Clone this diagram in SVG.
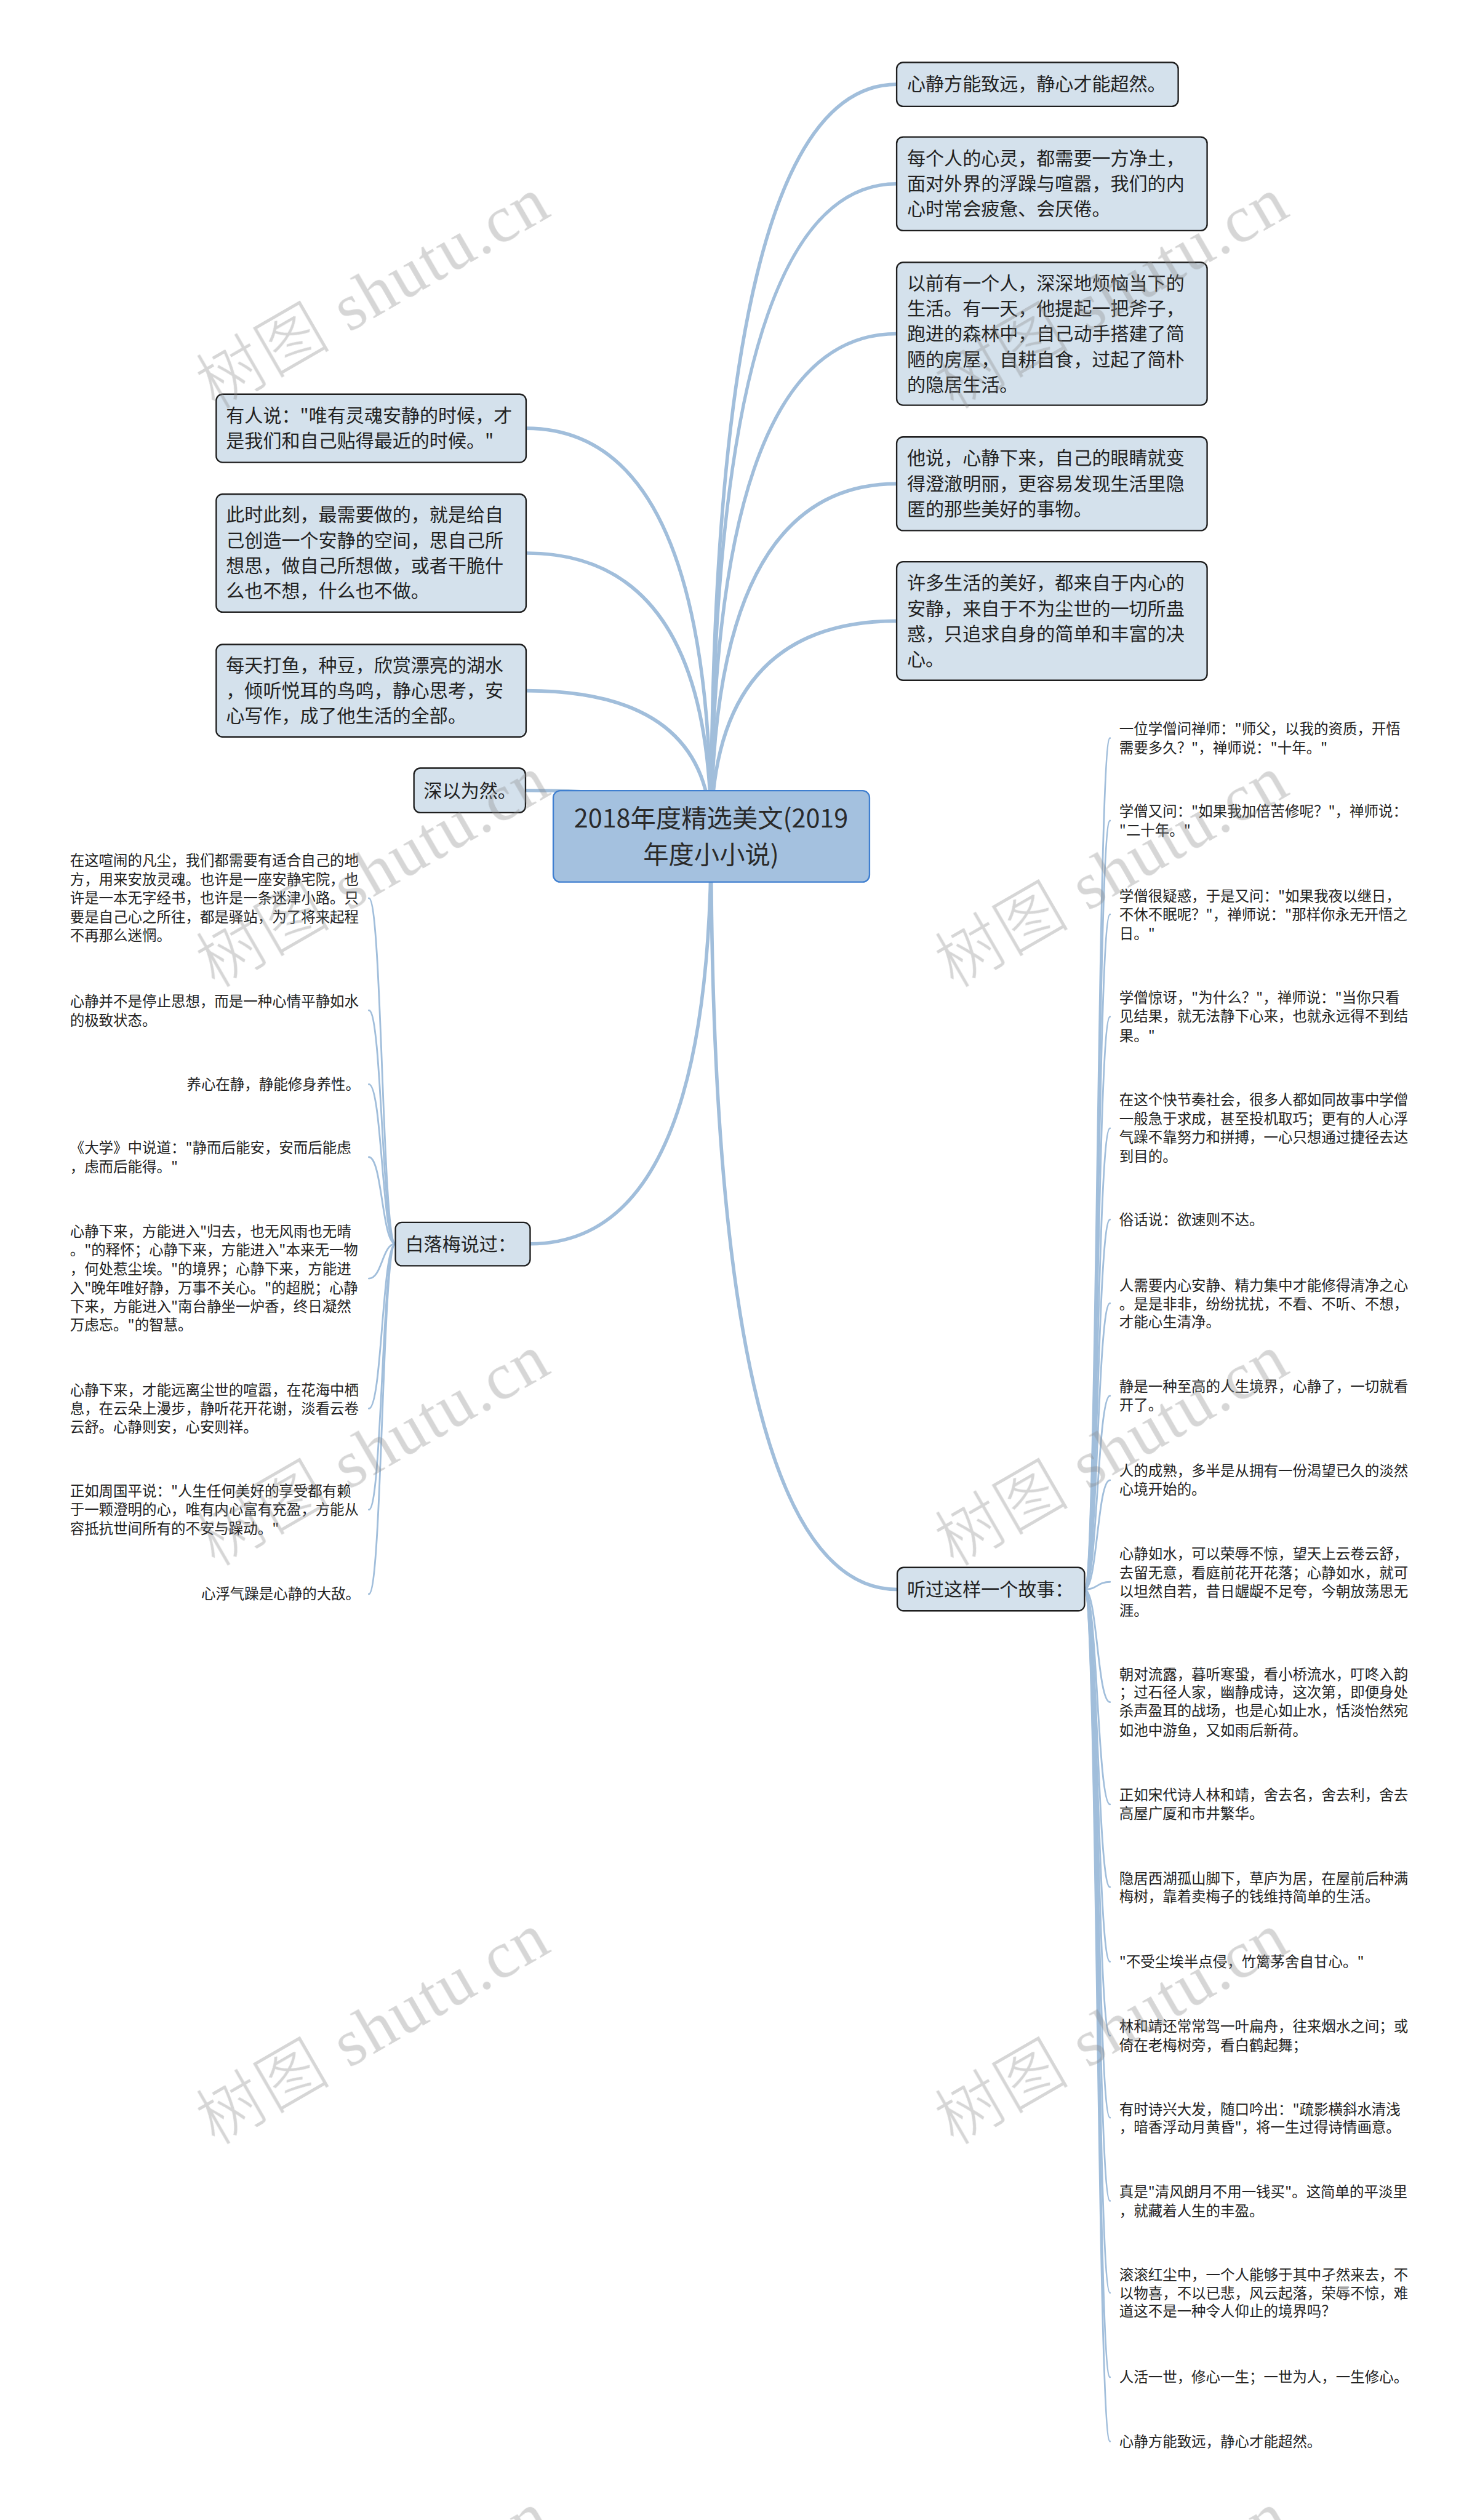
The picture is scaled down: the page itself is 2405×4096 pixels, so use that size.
<svg xmlns="http://www.w3.org/2000/svg" width="2405" height="4096" viewBox="0 0 2405 4096">
<style>
.box{fill:#d4e1ec;stroke:#1e1e1e;stroke-width:2.5}
.root{fill:#a4c1df;stroke:#3f7fd0;stroke-width:2.5}
.t{font-family:"Noto Sans CJK SC","Noto Sans",sans-serif;fill:#222}
.s32{font-size:32px}
.s25{font-size:25px}
.s43{font-size:44px;fill:#2a2a2a}
.c1{fill:none;stroke:#a1bedb;stroke-width:6;stroke-linecap:round}
.c2{fill:none;stroke:#a1bedb;stroke-width:3;stroke-linecap:round}
.wm{font-size:115px;fill:#8a8a8a;opacity:0.35;letter-spacing:3px}
</style>
<rect x="0" y="0" width="2405" height="4096" fill="#ffffff"/>
<g transform="scale(0.93945)">
<g id="connectors">
<path class="c1" d="M1230,1447 Q1230,146 1551,146"/>
<path class="c1" d="M1230,1447 Q1230,318 1551,318"/>
<path class="c1" d="M1230,1447 Q1230,577.5 1551,577.5"/>
<path class="c1" d="M1230,1447 Q1230,837 1551,837"/>
<path class="c1" d="M1230,1447 Q1230,1074.5 1551,1074.5"/>
<path class="c1" d="M1230,1447 Q1230,741 910,741"/>
<path class="c1" d="M1230,1447 Q1230,957 910,957"/>
<path class="c1" d="M1230,1447 Q1230,1195 910,1195"/>
<path class="c1" d="M1230,1447 Q1230,1367.5 909,1367.5"/>
<path class="c1" d="M1230,1447 Q1230,2152 917,2152"/>
<path class="c1" d="M1230,1447 Q1230,2750 1552,2750"/>
<path class="c2" d="M684,2152 C661,2152 661,1554 638,1554"/>
<path class="c2" d="M684,2152 C661,2152 661,1748 638,1748"/>
<path class="c2" d="M684,2152 C661,2152 661,1876 638,1876"/>
<path class="c2" d="M684,2152 C661,2152 661,2002 638,2002"/>
<path class="c2" d="M684,2152 C661,2152 661,2212 638,2212"/>
<path class="c2" d="M684,2152 C661,2152 661,2437 638,2437"/>
<path class="c2" d="M684,2152 C661,2152 661,2612 638,2612"/>
<path class="c2" d="M684,2152 C661,2152 661,2758 638,2758"/>
<path class="c2" d="M1876,2750 C1898,2750 1898,1277 1920,1277"/>
<path class="c2" d="M1876,2750 C1898,2750 1898,1420 1920,1420"/>
<path class="c2" d="M1876,2750 C1898,2750 1898,1582 1920,1582"/>
<path class="c2" d="M1876,2750 C1898,2750 1898,1759 1920,1759"/>
<path class="c2" d="M1876,2750 C1898,2750 1898,1952 1920,1952"/>
<path class="c2" d="M1876,2750 C1898,2750 1898,2110 1920,2110"/>
<path class="c2" d="M1876,2750 C1898,2750 1898,2255 1920,2255"/>
<path class="c2" d="M1876,2750 C1898,2750 1898,2415 1920,2415"/>
<path class="c2" d="M1876,2750 C1898,2750 1898,2561 1920,2561"/>
<path class="c2" d="M1876,2750 C1898,2750 1898,2737 1920,2737"/>
<path class="c2" d="M1876,2750 C1898,2750 1898,2945 1920,2945"/>
<path class="c2" d="M1876,2750 C1898,2750 1898,3122 1920,3122"/>
<path class="c2" d="M1876,2750 C1898,2750 1898,3265 1920,3265"/>
<path class="c2" d="M1876,2750 C1898,2750 1898,3394 1920,3394"/>
<path class="c2" d="M1876,2750 C1898,2750 1898,3522 1920,3522"/>
<path class="c2" d="M1876,2750 C1898,2750 1898,3664 1920,3664"/>
<path class="c2" d="M1876,2750 C1898,2750 1898,3808 1920,3808"/>
<path class="c2" d="M1876,2750 C1898,2750 1898,3967 1920,3967"/>
<path class="c2" d="M1876,2750 C1898,2750 1898,4113 1920,4113"/>
<path class="c2" d="M1876,2750 C1898,2750 1898,4224 1920,4224"/>
</g>
<g id="root">
<rect class="root" x="957" y="1368" width="547" height="158" rx="12"/>
<text class="t s43" text-anchor="middle"><tspan x="1230" y="1432">2018年度精选美文(2019</tspan><tspan x="1230" y="1494">年度小小说)</tspan></text>
</g>
<g id="b1">
<rect class="box" x="1551" y="108" width="487" height="76" rx="11"/>
<text class="t s32" x="1569" y="157">心静方能致远，静心才能超然。</text>
</g>
<g id="b2">
<rect class="box" x="1551" y="237" width="537" height="162" rx="11"/>
<text class="t s32"><tspan x="1569" y="285">每个人的心灵，都需要一方净土，</tspan><tspan x="1569" y="329">面对外界的浮躁与喧嚣，我们的内</tspan><tspan x="1569" y="373">心时常会疲惫、会厌倦。</tspan></text>
</g>
<g id="b3">
<rect class="box" x="1551" y="454" width="537" height="247" rx="11"/>
<text class="t s32"><tspan x="1569" y="501">以前有一个人，深深地烦恼当下的</tspan><tspan x="1569" y="545">生活。有一天，他提起一把斧子，</tspan><tspan x="1569" y="589">跑进的森林中，自己动手搭建了简</tspan><tspan x="1569" y="633">陋的房屋，自耕自食，过起了简朴</tspan><tspan x="1569" y="677">的隐居生活。</tspan></text>
</g>
<g id="b4">
<rect class="box" x="1551" y="756" width="537" height="162" rx="11"/>
<text class="t s32"><tspan x="1569" y="804">他说，心静下来，自己的眼睛就变</tspan><tspan x="1569" y="848">得澄澈明丽，更容易发现生活里隐</tspan><tspan x="1569" y="892">匿的那些美好的事物。</tspan></text>
</g>
<g id="b5">
<rect class="box" x="1551" y="972" width="537" height="205" rx="11"/>
<text class="t s32"><tspan x="1569" y="1020">许多生活的美好，都来自于内心的</tspan><tspan x="1569" y="1064">安静，来自于不为尘世的一切所蛊</tspan><tspan x="1569" y="1108">惑，只追求自身的简单和丰富的决</tspan><tspan x="1569" y="1152">心。</tspan></text>
</g>
<g id="l1">
<rect class="box" x="374" y="682" width="536" height="118" rx="11"/>
<text class="t s32"><tspan x="391" y="730">有人说："唯有灵魂安静的时候，才</tspan><tspan x="391" y="774">是我们和自己贴得最近的时候。"</tspan></text>
</g>
<g id="l2">
<rect class="box" x="374" y="855" width="536" height="204" rx="11"/>
<text class="t s32"><tspan x="391" y="902">此时此刻，最需要做的，就是给自</tspan><tspan x="391" y="946">己创造一个安静的空间，思自己所</tspan><tspan x="391" y="990">想思，做自己所想做，或者干脆什</tspan><tspan x="391" y="1034">么也不想，什么也不做。</tspan></text>
</g>
<g id="l3">
<rect class="box" x="374" y="1115" width="536" height="160" rx="11"/>
<text class="t s32"><tspan x="391" y="1162">每天打鱼，种豆，欣赏漂亮的湖水</tspan><tspan x="391" y="1206">，倾听悦耳的鸟鸣，静心思考，安</tspan><tspan x="391" y="1250">心写作，成了他生活的全部。</tspan></text>
</g>
<g id="l4">
<rect class="box" x="716" y="1329" width="193" height="77" rx="11"/>
<text class="t s32" x="733" y="1379">深以为然。</text>
</g>
<g id="bailuomei">
<rect class="box" x="684" y="2115" width="233" height="75" rx="11"/>
<text class="t s32" x="701" y="2164">白落梅说过：</text>
</g>
<g id="tingguo">
<rect class="box" x="1552" y="2712" width="324" height="75" rx="11"/>
<text class="t s32" x="1569" y="2761">听过这样一个故事：</text>
</g>
<g id="left-leaves" class="t s25">
<text id="ll1"><tspan x="121" y="1498">在这喧闹的凡尘，我们都需要有适合自己的地</tspan><tspan x="121" y="1530.5">方，用来安放灵魂。也许是一座安静宅院，也</tspan><tspan x="121" y="1563">许是一本无字经书，也许是一条迷津小路。只</tspan><tspan x="121" y="1595.5">要是自己心之所往，都是驿站，为了将来起程</tspan><tspan x="121" y="1628">不再那么迷惘。</tspan></text>
<text id="ll2"><tspan x="121" y="1741">心静并不是停止思想，而是一种心情平静如水</tspan><tspan x="121" y="1774">的极致状态。</tspan></text>
<text id="ll3" x="323" y="1885">养心在静，静能修身养性。</text>
<text id="ll4"><tspan x="121" y="1995">《大学》中说道："静而后能安，安而后能虑</tspan><tspan x="121" y="2028">，虑而后能得。"</tspan></text>
<text id="ll5"><tspan x="121" y="2140">心静下来，方能进入"归去，也无风雨也无晴</tspan><tspan x="121" y="2172">。"的释怀；心静下来，方能进入"本来无一物</tspan><tspan x="121" y="2205">，何处惹尘埃。"的境界；心静下来，方能进</tspan><tspan x="121" y="2237">入"晚年唯好静，万事不关心。"的超脱；心静</tspan><tspan x="121" y="2269">下来，方能进入"南台静坐一炉香，终日凝然</tspan><tspan x="121" y="2301">万虑忘。"的智慧。</tspan></text>
<text id="ll6"><tspan x="121" y="2414">心静下来，才能远离尘世的喧嚣，在花海中栖</tspan><tspan x="121" y="2446">息，在云朵上漫步，静听花开花谢，淡看云卷</tspan><tspan x="121" y="2478">云舒。心静则安，心安则祥。</tspan></text>
<text id="ll7"><tspan x="121" y="2589">正如周国平说："人生任何美好的享受都有赖</tspan><tspan x="121" y="2621">于一颗澄明的心，唯有内心富有充盈，方能从</tspan><tspan x="121" y="2654">容抵抗世间所有的不安与躁动。"</tspan></text>
<text id="ll8" x="348" y="2767">心浮气躁是心静的大敌。</text>
</g>
<g id="right-leaves" class="t s25">
<text id="r1"><tspan x="1936" y="1270">一位学僧问禅师："师父，以我的资质，开悟</tspan><tspan x="1936" y="1303">需要多久？"，禅师说："十年。"</tspan></text>
<text id="r2"><tspan x="1936" y="1413">学僧又问："如果我加倍苦修呢？"，禅师说：</tspan><tspan x="1936" y="1446">"二十年。"</tspan></text>
<text id="r3"><tspan x="1936" y="1559">学僧很疑惑，于是又问："如果我夜以继日，</tspan><tspan x="1936" y="1591">不休不眠呢？"，禅师说："那样你永无开悟之</tspan><tspan x="1936" y="1624">日。"</tspan></text>
<text id="r4"><tspan x="1936" y="1735">学僧惊讶，"为什么？"，禅师说："当你只看</tspan><tspan x="1936" y="1767">见结果，就无法静下心来，也就永远得不到结</tspan><tspan x="1936" y="1801">果。"</tspan></text>
<text id="r5"><tspan x="1936" y="1912">在这个快节奏社会，很多人都如同故事中学僧</tspan><tspan x="1936" y="1945">一般急于求成，甚至投机取巧；更有的人心浮</tspan><tspan x="1936" y="1977">气躁不靠努力和拼搏，一心只想通过捷径去达</tspan><tspan x="1936" y="2010">到目的。</tspan></text>
<text id="r6" x="1936" y="2119">俗话说：欲速则不达。</text>
<text id="r7"><tspan x="1936" y="2233">人需要内心安静、精力集中才能修得清净之心</tspan><tspan x="1936" y="2265">。是是非非，纷纷扰扰，不看、不听、不想，</tspan><tspan x="1936" y="2296">才能心生清净。</tspan></text>
<text id="r8"><tspan x="1936" y="2408">静是一种至高的人生境界，心静了，一切就看</tspan><tspan x="1936" y="2440">开了。</tspan></text>
<text id="r9"><tspan x="1936" y="2554">人的成熟，多半是从拥有一份渴望已久的淡然</tspan><tspan x="1936" y="2586">心境开始的。</tspan></text>
<text id="r10"><tspan x="1936" y="2697">心静如水，可以荣辱不惊，望天上云卷云舒，</tspan><tspan x="1936" y="2730">去留无意，看庭前花开花落；心静如水，就可</tspan><tspan x="1936" y="2762">以坦然自若，昔日龌龊不足夸，今朝放荡思无</tspan><tspan x="1936" y="2795">涯。</tspan></text>
<text id="r11"><tspan x="1936" y="2906">朝对流露，暮听寒蛩，看小桥流水，叮咚入韵</tspan><tspan x="1936" y="2937">；过石径人家，幽静成诗，这次第，即便身处</tspan><tspan x="1936" y="2969">杀声盈耳的战场，也是心如止水，恬淡怡然宛</tspan><tspan x="1936" y="3003">如池中游鱼，又如雨后新荷。</tspan></text>
<text id="r12"><tspan x="1936" y="3115">正如宋代诗人林和靖，舍去名，舍去利，舍去</tspan><tspan x="1936" y="3147">高屋广厦和市井繁华。</tspan></text>
<text id="r13"><tspan x="1936" y="3259">隐居西湖孤山脚下，草庐为居，在屋前后种满</tspan><tspan x="1936" y="3290">梅树，靠着卖梅子的钱维持简单的生活。</tspan></text>
<text id="r14" x="1936" y="3403">"不受尘埃半点侵，竹篱茅舍自甘心。"</text>
<text id="r15"><tspan x="1936" y="3515">林和靖还常常驾一叶扁舟，往来烟水之间；或</tspan><tspan x="1936" y="3548">倚在老梅树旁，看白鹤起舞；</tspan></text>
<text id="r16"><tspan x="1936" y="3658">有时诗兴大发，随口吟出："疏影横斜水清浅</tspan><tspan x="1936" y="3689">，暗香浮动月黄昏"，将一生过得诗情画意。</tspan></text>
<text id="r17"><tspan x="1936" y="3801">真是"清风朗月不用一钱买"。这简单的平淡里</tspan><tspan x="1936" y="3834">，就藏着人生的丰盈。</tspan></text>
<text id="r18"><tspan x="1936" y="3945">滚滚红尘中，一个人能够于其中孑然来去，不</tspan><tspan x="1936" y="3977">以物喜，不以已悲，风云起落，荣辱不惊，难</tspan><tspan x="1936" y="4008">道这不是一种令人仰止的境界吗？</tspan></text>
<text id="r19" x="1936" y="4122">人活一世，修心一生；一世为人，一生修心。</text>
<text id="r20" x="1936" y="4233">心静方能致远，静心才能超然。</text>
</g>
<g id="watermarks" class="wm">
<text transform="translate(646,507) rotate(-30)" text-anchor="middle" y="38"><tspan font-family="Noto Sans CJK SC,sans-serif" font-weight="300">树图</tspan><tspan font-family="Liberation Serif,serif"> shutu.cn</tspan></text>
<text transform="translate(1924,507) rotate(-30)" text-anchor="middle" y="38"><tspan font-family="Noto Sans CJK SC,sans-serif" font-weight="300">树图</tspan><tspan font-family="Liberation Serif,serif"> shutu.cn</tspan></text>
<text transform="translate(646,1508) rotate(-30)" text-anchor="middle" y="38"><tspan font-family="Noto Sans CJK SC,sans-serif" font-weight="300">树图</tspan><tspan font-family="Liberation Serif,serif"> shutu.cn</tspan></text>
<text transform="translate(1924,1508) rotate(-30)" text-anchor="middle" y="38"><tspan font-family="Noto Sans CJK SC,sans-serif" font-weight="300">树图</tspan><tspan font-family="Liberation Serif,serif"> shutu.cn</tspan></text>
<text transform="translate(646,2509) rotate(-30)" text-anchor="middle" y="38"><tspan font-family="Noto Sans CJK SC,sans-serif" font-weight="300">树图</tspan><tspan font-family="Liberation Serif,serif"> shutu.cn</tspan></text>
<text transform="translate(1924,2509) rotate(-30)" text-anchor="middle" y="38"><tspan font-family="Noto Sans CJK SC,sans-serif" font-weight="300">树图</tspan><tspan font-family="Liberation Serif,serif"> shutu.cn</tspan></text>
<text transform="translate(646,3510) rotate(-30)" text-anchor="middle" y="38"><tspan font-family="Noto Sans CJK SC,sans-serif" font-weight="300">树图</tspan><tspan font-family="Liberation Serif,serif"> shutu.cn</tspan></text>
<text transform="translate(1924,3510) rotate(-30)" text-anchor="middle" y="38"><tspan font-family="Noto Sans CJK SC,sans-serif" font-weight="300">树图</tspan><tspan font-family="Liberation Serif,serif"> shutu.cn</tspan></text>
<text transform="translate(646,4511) rotate(-30)" text-anchor="middle" y="38"><tspan font-family="Noto Sans CJK SC,sans-serif" font-weight="300">树图</tspan><tspan font-family="Liberation Serif,serif"> shutu.cn</tspan></text>
<text transform="translate(1924,4511) rotate(-30)" text-anchor="middle" y="38"><tspan font-family="Noto Sans CJK SC,sans-serif" font-weight="300">树图</tspan><tspan font-family="Liberation Serif,serif"> shutu.cn</tspan></text>
</g>
</g>
</svg>
